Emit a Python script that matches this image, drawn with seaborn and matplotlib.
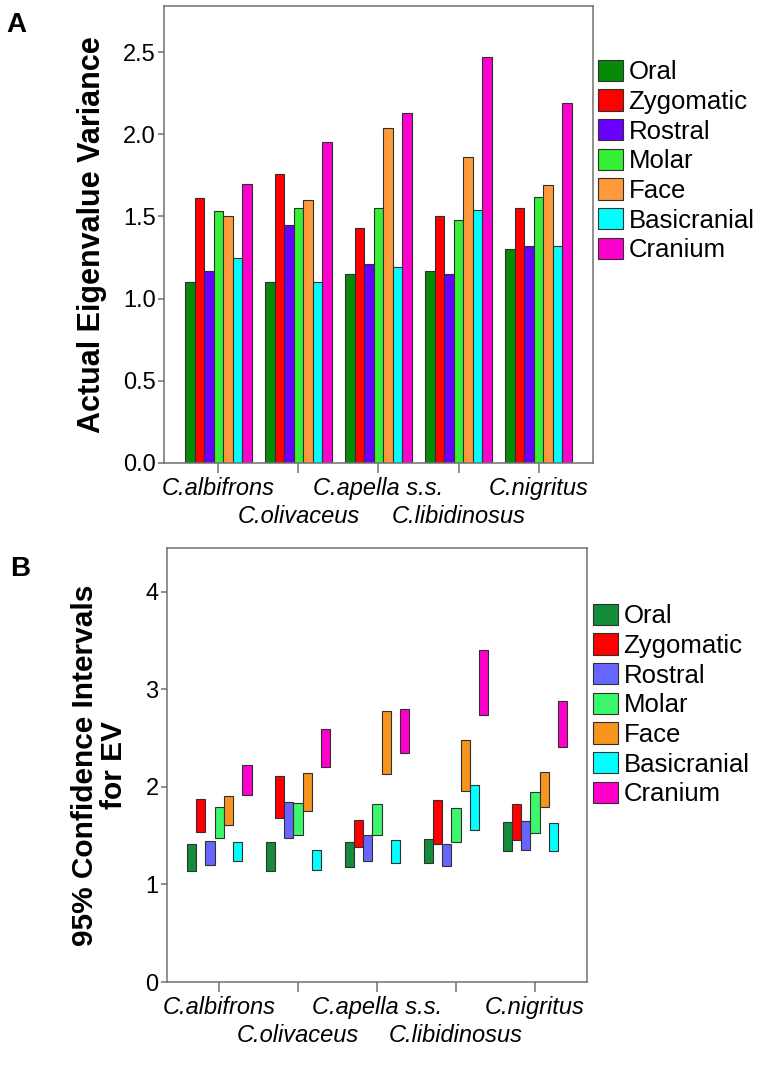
import numpy as np
import pandas as pd
import seaborn as sns
import matplotlib.pyplot as plt

# data
species = ["C.albifrons", "C.olivaceus", "C.apella s.s.", "C.libidinosus", "C.nigritus"]
regions = ["Oral", "Zygomatic", "Rostral", "Molar", "Face", "Basicranial", "Cranium"]

# panel A: actual eigenvalue variance (one list per region, in species order)
ev_oral = [1.10, 1.10, 1.15, 1.17, 1.30]
ev_zygomatic = [1.61, 1.76, 1.43, 1.50, 1.55]
ev_rostral = [1.17, 1.45, 1.21, 1.15, 1.32]
ev_molar = [1.53, 1.55, 1.55, 1.48, 1.62]
ev_face = [1.50, 1.60, 2.04, 1.86, 1.69]
ev_basicranial = [1.25, 1.10, 1.19, 1.54, 1.32]
ev_cranium = [1.70, 1.95, 2.13, 2.47, 2.19]

# panel B: 95% CI (low, high)
ci_low = {
    "Oral": [1.14, 1.14, 1.18, 1.22, 1.34],
    "Zygomatic": [1.54, 1.68, 1.38, 1.42, 1.46],
    "Rostral": [1.20, 1.48, 1.24, 1.19, 1.35],
    "Molar": [1.48, 1.51, 1.51, 1.44, 1.53],
    "Face": [1.61, 1.75, 2.13, 1.96, 1.79],
    "Basicranial": [1.24, 1.15, 1.22, 1.56, 1.34],
    "Cranium": [1.92, 2.20, 2.35, 2.74, 2.41],
}
ci_high = {
    "Oral": [1.41, 1.44, 1.44, 1.47, 1.64],
    "Zygomatic": [1.88, 2.11, 1.66, 1.87, 1.83],
    "Rostral": [1.45, 1.85, 1.51, 1.42, 1.65],
    "Molar": [1.79, 1.84, 1.82, 1.78, 1.95],
    "Face": [1.91, 2.14, 2.78, 2.48, 2.15],
    "Basicranial": [1.44, 1.35, 1.46, 2.02, 1.63],
    "Cranium": [2.22, 2.59, 2.80, 3.40, 2.88],
}

colors_a = ["#078a07", "#ff0000", "#6a00ff", "#36f036", "#ff9a3c", "#00ffff", "#ff00cc"]
colors_b = ["#148c3c", "#ff0000", "#6666ff", "#3cf76c", "#f7941e", "#00ffff", "#ff00cc"]

ev_values = [ev_oral, ev_zygomatic, ev_rostral, ev_molar, ev_face, ev_basicranial, ev_cranium]
df_a = pd.DataFrame([(s, r, v) for r, vals in zip(regions, ev_values) for s, v in zip(species, vals)],
                    columns=["species", "region", "value"])
df_b = pd.DataFrame([(s, r, lo, hi) for r in regions
                     for s, lo, hi in zip(species, ci_low[r], ci_high[r])],
                    columns=["species", "region", "low", "high"])
df_b["span"] = df_b["high"] - df_b["low"]

sns.set_theme(style="white")
plt.rcParams["font.family"] = ["Liberation Sans", "DejaVu Sans"]
plt.rcParams["text.color"] = "black"
plt.rcParams["axes.labelcolor"] = "black"
plt.rcParams["xtick.color"] = "black"
plt.rcParams["ytick.color"] = "black"

fig = plt.figure(figsize=(7.62, 10.73), dpi=100)
ax_a = fig.add_axes([0.2152, 0.5685, 0.563, 0.4259])
ax_b = fig.add_axes([0.2192, 0.0848, 0.5512, 0.4045])

spine_col = "#707070"

sns.barplot(data=df_a, x="species", y="value", hue="region", order=species, hue_order=regions,
            palette=colors_a, saturation=1, width=0.83, edgecolor="#303030", linewidth=0.8,
            ax=ax_a)

sns.barplot(data=df_b, x="species", y="span", hue="region", order=species, hue_order=regions,
            palette=colors_b, saturation=1, width=0.82, edgecolor="#303030", linewidth=0.8,
            ax=ax_b)
# lift the interval boxes to their lower bound
for cont, r in zip(ax_b.containers, regions):
    for bar, lo in zip(cont, ci_low[r]):
        bar.set_y(lo)

for ax, ylim, xlim in [(ax_a, 2.78, 0.68), (ax_b, 4.45, 0.66)]:
    ax.set_ylim(0, ylim)
    ax.set_xlim(-xlim, 4 + xlim)
    for sp in ax.spines.values():
        sp.set_color(spine_col)
        sp.set_linewidth(1.1)
    ax.set_xlabel("")
    ax.set_xticks(range(len(species)))
    ax.set_xticklabels(species, fontsize=17, style="italic")
    ax.tick_params(axis="x", length=7, width=1.1, color=spine_col, pad=3, bottom=True)
    ax.tick_params(axis="y", length=4, width=1.1, color=spine_col, pad=2, left=True, labelsize=17)
    # staggered labels: every second one drops a row, with a long tick
    for i, t in enumerate(ax.xaxis.get_major_ticks()):
        if i % 2 == 1:
            t.tick1line.set_markersize(25)
            t.set_pad(3 + 20)
    ax.legend(loc="center left", bbox_to_anchor=(1.0, 0.5), frameon=False, fontsize=18.5,
              handlelength=1.0, handleheight=0.9, handletextpad=0.2, labelspacing=0.2,
              borderpad=0, borderaxespad=0.1)

ax_a.set_yticks([0, 0.5, 1.0, 1.5, 2.0, 2.5])
ax_a.set_yticklabels(["0.0", "0.5", "1.0", "1.5", "2.0", "2.5"])
ax_b.set_yticks([0, 1, 2, 3, 4])
ax_b.set_yticklabels(["0", "1", "2", "3", "4"])

ax_a.set_ylabel("Actual Eigenvalue Variance", fontsize=22, fontweight="bold", va="center")
ax_a.yaxis.set_label_coords(-0.168, 0.5)
ax_b.set_ylabel("95% Confidence Intervals\nfor EV", fontsize=21.5, fontweight="bold",
                va="center", linespacing=1.05)
ax_b.yaxis.set_label_coords(-0.16, 0.5)

# legends sit slightly higher than axis centre in the original
leg_a = ax_a.get_legend()
leg_a.set_bbox_to_anchor((595 / 762, 1 - 161 / 1073), transform=fig.transFigure)
leg_b = ax_b.get_legend()
leg_b.set_bbox_to_anchor((590 / 762, 1 - 705 / 1073), transform=fig.transFigure)
for leg in (leg_a, leg_b):
    leg._loc = 6  # center left
    leg.set_frame_on(False)
    for h in leg.legend_handles:
        h.set_edgecolor("#303030")
        h.set_linewidth(0.8)
    for txt in leg.get_texts():
        txt.set_color("black")

fig.text(6 / 762, 1 - 12 / 1073, "A", fontsize=20, fontweight="bold", va="top")
fig.text(10 / 762, 1 - 556 / 1073, "B", fontsize=20, fontweight="bold", va="top")

fig.savefig("out.png", dpi=100)
